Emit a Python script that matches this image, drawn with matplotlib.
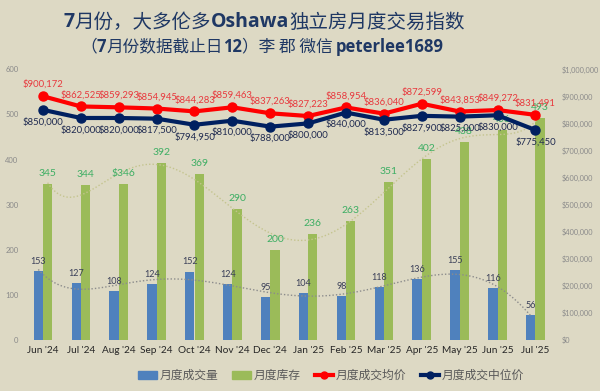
import numpy as np
import matplotlib
matplotlib.use('Agg')
import matplotlib.pyplot as plt
from matplotlib.lines import Line2D
from matplotlib.patches import Patch

# data
months = ["Jun '24", "Jul '24", "Aug '24", "Sep '24", "Oct '24", "Nov '24", "Dec '24",
          "Jan '25", "Feb '25", "Mar '25", "Apr '25", "May '25", "Jun '25", "Jul '25"]
sales = [153, 127, 108, 124, 152, 124, 95, 104, 98, 118, 136, 155, 116, 56]
inventory = [345, 344, 346, 392, 369, 290, 200, 236, 263, 351, 402, 438, 466, 493]
inv_labels = ['345', '344', '$346', '392', '369', '290', '200', '236', '263', '351',
              '402', '438', '466', '493']
avg_price = [900172, 862525, 859293, 854945, 844283, 859463, 837263, 827223,
             858954, 836040, 872599, 843853, 849272, 831491]
median_price = [850000, 820000, 820000, 817500, 794950, 810000, 788000, 800000,
                840000, 813500, 827900, 825000, 830000, 775450]

BG = '#DDD9C4'
BLUE = '#4F81BD'
GREEN = '#9BBB59'
RED = '#FF0000'
NAVY = '#002060'
NUMF = ['Lato', 'DejaVu Sans']
CJK = ['Noto Sans CJK SC', 'DejaVu Sans']

fig = plt.figure(figsize=(6, 3.91), dpi=100, facecolor=BG)
ax = fig.add_axes([0.04, 0.13, 0.884, 0.693])
ax.set_facecolor(BG)
x = np.arange(len(months))
w = 0.245

ax.bar(x - 0.123, sales, w, color=BLUE, zorder=2)
ax.bar(x + 0.123, inventory, w, color=GREEN, zorder=2)

# polynomial trend lines (like excel)
xs = np.linspace(0, len(months) - 1, 200)
p1 = np.polyfit(x, sales, 6)
p2 = np.polyfit(x, inventory, 6)
ax.plot(xs - 0.123, np.polyval(p1, xs), color='#8C8C8C', lw=1, ls=(0, (1, 1.5)), zorder=3)
ax.plot(xs + 0.123, np.polyval(p2, xs), color='#C4C48E', lw=1, ls=(0, (1, 1.5)), zorder=3)

for i in range(len(months)):
    ax.annotate(str(sales[i]), (x[i] - 0.123, sales[i]), xytext=(0, 7), textcoords='offset points',
                ha='center', va='center', fontsize=6.5, color='#3A3F58', family=NUMF, zorder=5)
    ax.annotate(inv_labels[i], (x[i] + 0.123, inventory[i]), xytext=(0, 7.5), textcoords='offset points',
                ha='center', va='center', fontsize=7.5, color='#3DAE63', family=NUMF, zorder=5)

ax.set_xlim(-0.5, len(months) - 0.5)
ax.set_ylim(0, 600)
ax.set_yticks(range(0, 601, 100))
ax.set_xticks(x, months)
ax.tick_params(axis='y', length=0, labelsize=5.5, labelcolor='#8A8A8A', pad=4)
ax.tick_params(axis='x', length=0, labelsize=7.2, labelcolor='#262626', pad=4)
for lab in ax.get_xticklabels() + ax.get_yticklabels():
    lab.set_family(NUMF)
for s in ax.spines.values():
    s.set_visible(False)

ax2 = ax.twinx()
ax2.set_ylim(0, 1000000)
ax2.set_yticks(range(0, 1000001, 100000))
ax2.set_yticklabels(['$' + format(v, ',') for v in range(0, 1000001, 100000)])
ax2.tick_params(axis='y', length=0, labelsize=5.3, labelcolor='#8A8A8A', pad=5)
for lab in ax2.get_yticklabels():
    lab.set_family(NUMF)
for s in ax2.spines.values():
    s.set_visible(False)

ax2.plot(x, avg_price, color=RED, lw=3, marker='o', ms=6.5, zorder=4)
ax2.plot(x, median_price, color=NAVY, lw=3, marker='o', ms=6.5, zorder=4)
for i in range(len(months)):
    ax2.annotate('$' + format(avg_price[i], ','), (x[i], avg_price[i]), xytext=(0, 8.5),
                 textcoords='offset points', ha='center', va='center', fontsize=6.8,
                 color='#E8383D', family=NUMF)
    ax2.annotate('$' + format(median_price[i], ','), (x[i], median_price[i]), xytext=(0, -8.5),
                 textcoords='offset points', ha='center', va='center', fontsize=6.8,
                 color='#1F2A50', family=NUMF)

# legend
handles = [Patch(color=BLUE), Patch(color=GREEN),
           Line2D([], [], color=RED, lw=3, marker='o', ms=5),
           Line2D([], [], color=NAVY, lw=3, marker='o', ms=5)]
fig.legend(handles, ['月度成交量', '月度库存', '月度成交均价', '月度成交中位价'],
           loc='center', bbox_to_anchor=(331 / 600, 0.04), ncol=4, frameon=False,
           prop={'family': CJK, 'size': 8.5}, labelcolor='#595959',
           handlelength=1.6, columnspacing=1.2, handletextpad=0.2)


# title with mixed weights
def mixed_line(y, segs, size, color, cx):
    r = fig.canvas.get_renderer()
    texts = []
    total = 0
    for s, bold in segs:
        t = fig.text(0, y, s, fontsize=size, color=color, va='center', ha='left',
                     fontweight='bold' if bold else 'normal',
                     family=['Open Sans', 'Noto Sans CJK SC'] if bold else CJK)
        wpx = t.get_window_extent(r).width
        texts.append((t, wpx))
        total += wpx
    figw = fig.get_figwidth() * fig.dpi
    xp = cx - total / 2
    for t, wpx in texts:
        t.set_x(xp / figw)
        xp += wpx


mixed_line(1 - 22 / 391, [('7', True), ('月份，大多伦多', False), ('Oshawa', True),
                          ('独立房月度交易指数', False)], 14, '#1F3864', 264)
mixed_line(1 - 47 / 391, [('（', False), ('7', True), ('月份数据截止日', False), ('12', True),
                          ('）李 郡 微信 ', False), ('peterlee1689', True)], 12, '#1F3864', 262)

fig.savefig('out.png', dpi=100, facecolor=BG)
